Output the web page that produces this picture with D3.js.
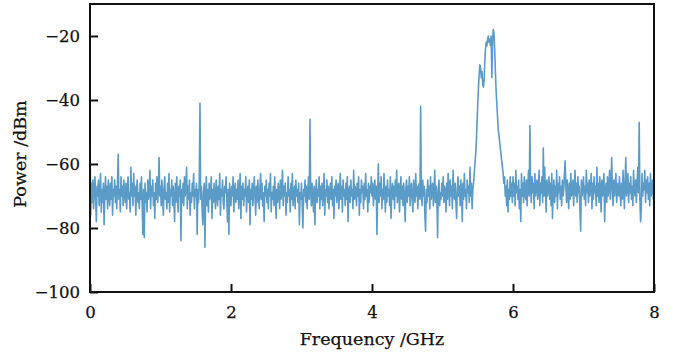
<!DOCTYPE html>
<html>
<head>
<meta charset="utf-8">
<script src="https://cdn.jsdelivr.net/npm/d3@7"></script>
<style>
  body { margin: 0; background: #fff; }
  svg text { font-family: "DejaVu Serif", serif; fill: #111; stroke: #111; stroke-width: 0.25px; }
</style>
</head>
<body>
<svg id="chart" width="675" height="353"></svg>
<script>
// spectrum, one value per 0.01 GHz, in dBm
const freqStart = 0;
const freqStep = 0.01;
const power = [].concat(
  // 0.00 - 0.49
  [-46,-76,-66,-72,-65,-74,-68,-64,-71,-78, -67,-70,-65,-73,-69,-63,-75,-68,-72,-66, -79,-70,-64,-71,-67,-74,-65,-69,-73,-66, -71,-64,-76,-68,-70,-65,-72,-67,-74,-66, -57,-71,-68,-75,-64,-70,-67,-73,-65,-69],
  // 0.50 - 0.99
  [-72,-66,-74,-68,-64,-71,-69,-75,-61,-70, -66,-73,-63,-70,-67,-76,-68,-65,-72,-69, -74,-66,-71,-64,-73,-82,-68,-83,-66,-72, -69,-75,-65,-71,-68,-62,-74,-67,-70,-65, -73,-69,-77,-66,-71,-64,-72,-68,-58,-70],
  // 1.00 - 1.49
  [-67,-73,-65,-70,-76,-68,-64,-71,-69,-74, -66,-72,-63,-75,-68,-70,-65,-73,-67,-71, -78,-66,-72,-64,-69,-75,-67,-70,-65,-84, -68,-72,-66,-73,-64,-70,-68,-61,-74,-67, -71,-65,-76,-69,-72,-66,-70,-63,-74,-68],
  // 1.50 - 1.99
  [-70,-66,-82,-68,-72,-65,-41,-71,-67,-74, -79,-69,-66,-86,-70,-64,-73,-68,-75,-66, -71,-69,-64,-77,-68,-72,-66,-70,-74,-65, -69,-73,-67,-71,-63,-76,-68,-70,-65,-72, -74,-67,-69,-64,-71,-78,-68,-82,-66,-70],
  // 2.00 - 2.49
  [-73,-67,-70,-64,-75,-69,-66,-72,-68,-71, -65,-74,-69,-63,-77,-67,-71,-66,-73,-68, -70,-64,-75,-69,-67,-72,-65,-79,-68,-71, -66,-73,-69,-64,-70,-76,-67,-72,-65,-69, -74,-68,-63,-71,-66,-73,-69,-78,-67,-70],
  // 2.50 - 2.99
  [-65,-72,-68,-74,-66,-70,-63,-75,-69,-71, -67,-73,-64,-70,-77,-68,-72,-66,-69,-74, -65,-71,-68,-62,-73,-67,-70,-66,-76,-69, -72,-64,-70,-68,-75,-66,-71,-63,-73,-69, -67,-74,-65,-70,-68,-72,-66,-79,-69,-71],
  // 3.00 - 3.49
  [-66,-73,-80,-68,-70,-65,-72,-67,-74,-69, -64,-71,-46,-68,-73,-66,-70,-75,-67,-79, -69,-65,-72,-68,-70,-64,-74,-67,-71,-66, -73,-69,-63,-76,-68,-70,-65,-72,-67,-74, -69,-66,-71,-64,-73,-68,-77,-67,-70,-65],
  // 3.50 - 3.99
  [-72,-68,-66,-74,-69,-63,-71,-67,-75,-65, -70,-68,-73,-66,-71,-64,-78,-69,-67,-72, -65,-70,-68,-74,-62,-71,-67,-69,-73,-66, -70,-64,-76,-68,-72,-65,-69,-67,-74,-66, -71,-63,-70,-68,-75,-66,-72,-67,-69,-64],
  // 4.00 - 4.49
  [-70,-66,-73,-68,-65,-71,-67,-82,-69,-60, -72,-66,-70,-64,-74,-68,-71,-63,-69,-75, -67,-72,-65,-70,-68,-73,-64,-77,-69,-66, -71,-67,-74,-65,-70,-62,-72,-68,-66,-75, -69,-64,-71,-67,-73,-66,-70,-78,-68,-65],
  // 4.50 - 4.99
  [-72,-67,-70,-64,-73,-68,-66,-71,-75,-65, -69,-72,-63,-70,-67,-74,-68,-66,-71,-42, -69,-73,-65,-70,-67,-76,-81,-68,-72,-65, -70,-67,-74,-64,-71,-68,-66,-73,-69,-62, -72,-67,-70,-83,-68,-65,-73,-69,-71,-66],
  // 5.00 - 5.49 (rising edge of the band from 5.45)
  [-70,-64,-72,-67,-69,-75,-66,-71,-63,-68, -73,-65,-70,-67,-74,-62,-69,-71,-66,-72, -77,-68,-64,-70,-67,-73,-65,-69,-78,-66, -71,-63,-70,-68,-74,-65,-69,-67,-72,-61, -70,-66,-74,-68,-66,-63,-60,-57,-53,-47],
  // 5.50 - 5.99 (signal band)
  [-41,-36,-32,-29,-30,-33,-31,-35,-36,-34, -28,-24,-22,-23,-21,-20,-22,-21,-23,-20, -33,-22,-18,-19,-24,-31,-37,-41,-45,-49, -51,-53,-55,-57,-59,-61,-63,-66,-64,-70, -67,-73,-65,-75,-68,-71,-64,-70,-66,-72],
  // 6.00 - 6.49
  [-64,-70,-66,-73,-62,-69,-67,-71,-65,-74, -68,-78,-63,-70,-66,-72,-64,-69,-71,-65, -73,-67,-62,-70,-48,-68,-72,-64,-69,-66, -74,-63,-70,-67,-65,-71,-68,-62,-73,-66, -69,-64,-72,-55,-70,-61,-68,-75,-65,-70],
  // 6.50 - 6.99
  [-68,-64,-71,-66,-73,-63,-77,-69,-65,-72, -67,-70,-62,-74,-66,-69,-64,-71,-67,-73, -65,-70,-68,-63,-59,-67,-72,-65,-69,-74, -66,-71,-63,-70,-68,-65,-73,-67,-62,-70, -66,-72,-64,-69,-67,-75,-81,-65,-70,-68],
  // 7.00 - 7.49
  [-64,-71,-67,-73,-62,-69,-66,-72,-65,-70, -68,-63,-74,-66,-71,-64,-69,-67,-73,-61, -70,-66,-72,-64,-68,-75,-65,-70,-67,-63, -78,-69,-66,-72,-64,-70,-67,-62,-71,-66, -58,-69,-73,-65,-70,-67,-63,-72,-68,-66],
  // 7.50 - 7.99
  [-70,-64,-69,-73,-66,-71,-62,-68,-74,-65, -58,-70,-67,-63,-72,-66,-69,-64,-71,-67, -73,-62,-68,-70,-65,-72,-66,-61,-69,-47, -71,-78,-74,-63,-70,-66,-68,-62,-72,-65, -69,-64,-71,-66,-73,-63,-70,-68,-65,-71],
  // 8.00
  [-67]
);

const xTicks = [0, 2, 4, 6, 8];
const yTicks = [-100, -80, -60, -40, -20];

const svg = d3.select("#chart");
const margin = {top: 4, right: 21, bottom: 61, left: 90};
const width = 675 - margin.left - margin.right;
const height = 353 - margin.top - margin.bottom;

const g = svg.append("g").attr("transform", "translate(" + margin.left + "," + margin.top + ")");

const x = d3.scaleLinear().domain([0, 8]).range([0, width]);
const y = d3.scaleLinear().domain([-100, -10]).range([height, 0]);

g.append("clipPath").attr("id", "clip")
  .append("rect").attr("width", width).attr("height", height);

const line = d3.line()
  .x((d, i) => x(freqStart + i * freqStep))
  .y(d => y(d));

g.append("path")
  .attr("clip-path", "url(#clip)")
  .attr("d", line(power))
  .attr("fill", "none")
  .attr("stroke", "#5a9bc8")
  .attr("stroke-width", 1.6)
  .attr("stroke-linejoin", "round");

// axes, ticks pointing inside the frame
const fmt = d => d < 0 ? "\u2212" + Math.abs(d) : d;
const xAxis = g.append("g")
  .attr("transform", "translate(0," + height + ")")
  .call(d3.axisBottom(x).tickValues(xTicks).tickSizeInner(-8).tickSizeOuter(0).tickPadding(14).tickFormat(fmt));
const yAxis = g.append("g")
  .call(d3.axisLeft(y).tickValues(yTicks).tickSizeInner(-8).tickSizeOuter(0).tickPadding(10).tickFormat(fmt));

[xAxis, yAxis].forEach(a => {
  a.select(".domain").remove();
  a.selectAll(".tick line").attr("stroke", "#111").attr("stroke-width", 2);
  a.selectAll(".tick text").style("font-size", "16.5px").attr("fill", "#111");
});

g.append("rect")
  .attr("width", width).attr("height", height)
  .attr("fill", "none").attr("stroke", "#111").attr("stroke-width", 2);

svg.append("text")
  .attr("text-anchor", "middle")
  .attr("transform", "translate(" + (margin.left + width / 2) + ",345)")
  .style("font-size", "17.5px")
  .text("Frequency /GHz");

svg.append("text")
  .attr("text-anchor", "middle")
  .attr("transform", "translate(26," + (margin.top + height / 2 + 6) + ")rotate(-90)")
  .style("font-size", "17.5px")
  .text("Power /dBm");
</script>
</body>
</html>
